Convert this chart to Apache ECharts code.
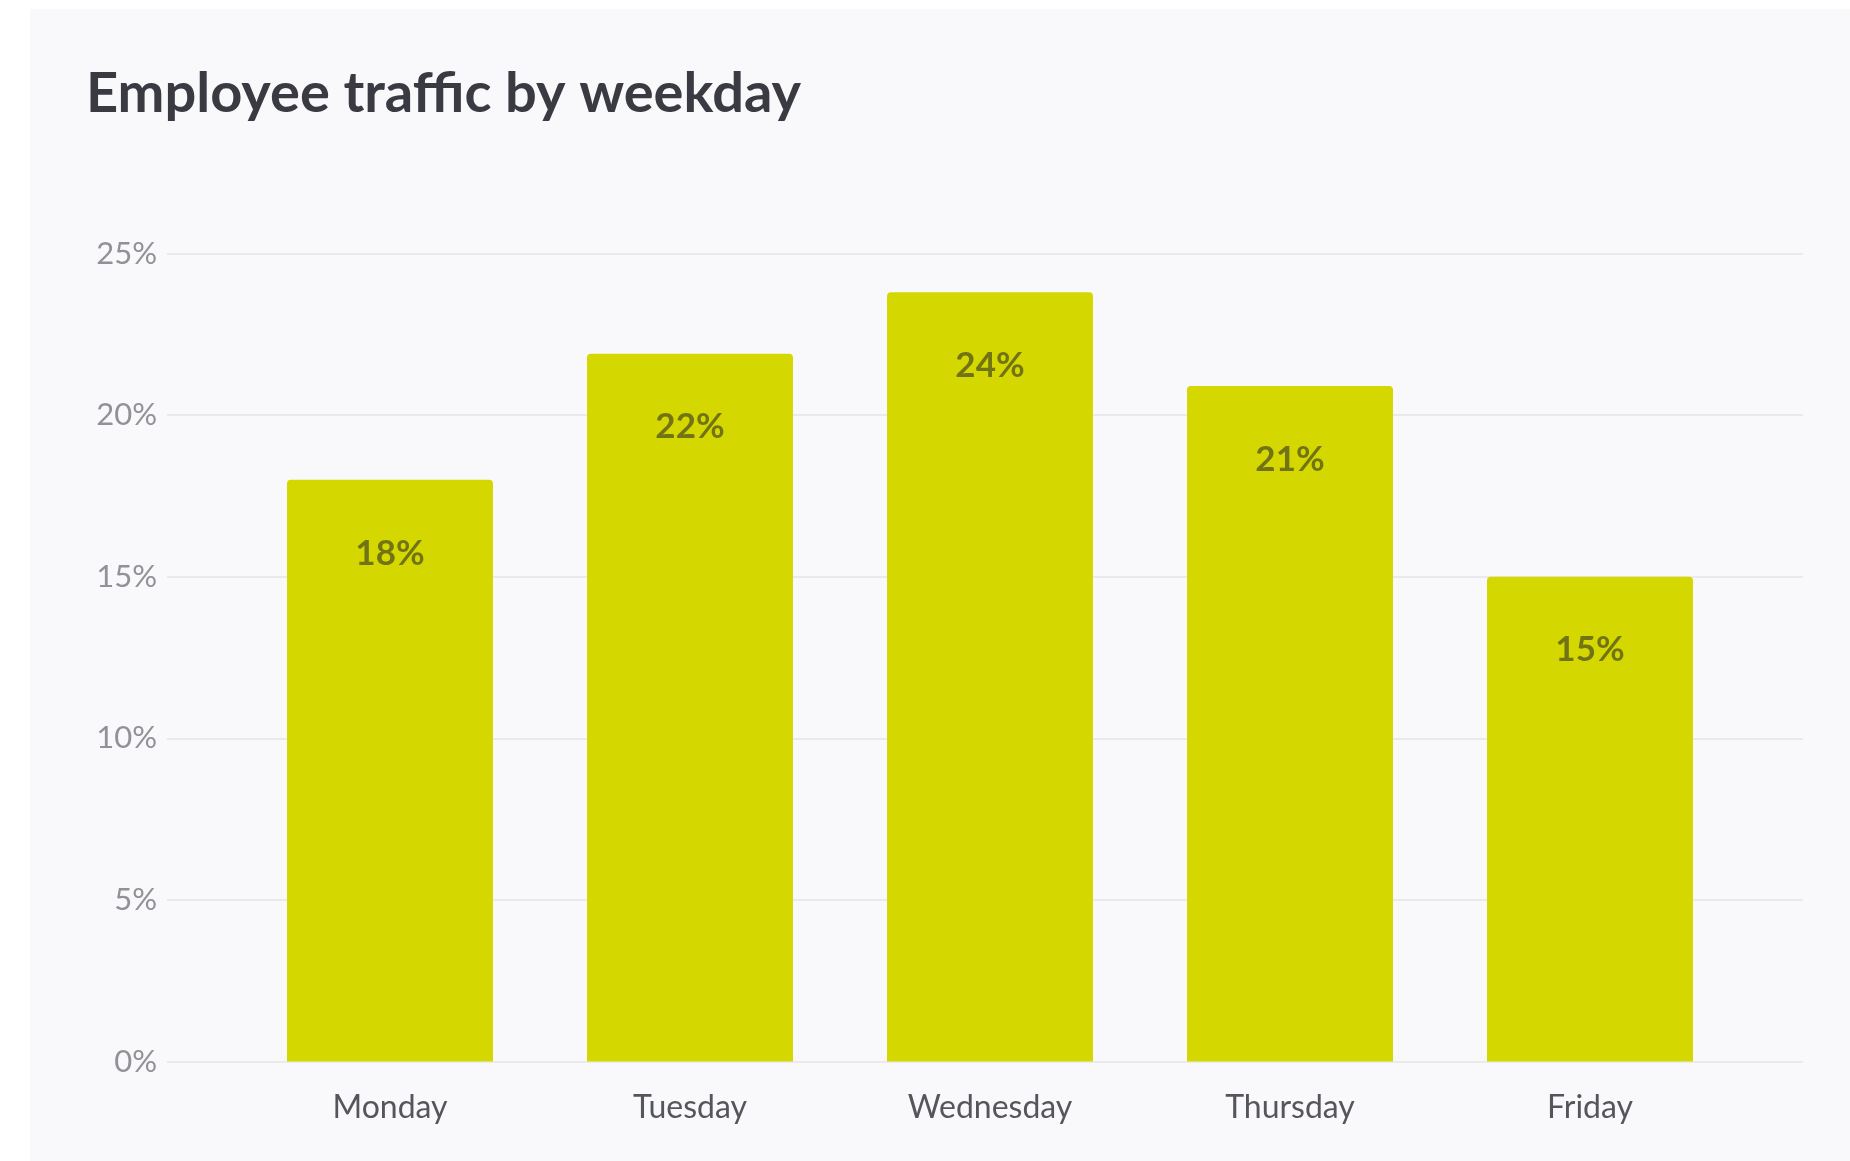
<!DOCTYPE html>
<html>
<head>
<meta charset="utf-8">
<script src="https://cdn.jsdelivr.net/npm/echarts@6/dist/echarts.min.js"></script>
<style>
  html, body { margin: 0; padding: 0; background: #ffffff; }
  #chart {
    position: absolute;
    left: 30px;
    top: 9px;
    width: 1820px;
    height: 1152px;
    background: #f9f9fb;
  }
</style>
</head>
<body>
<div id="chart"></div>
<script>
// Employee traffic by weekday
const days = ['Monday', 'Tuesday', 'Wednesday', 'Thursday', 'Friday'];
const traffic = [18.0, 21.9, 23.8, 20.9, 15.0];
const yTicks = [0, 5, 10, 15, 20, 25];

const chart = echarts.init(document.getElementById('chart'));

const FONT = 'Lato, "Noto Sans", sans-serif';

const option = {
  animation: false,
  title: {
    text: 'Employee traffic by weekday',
    left: 51,
    top: 52,
    textStyle: {
      fontFamily: FONT,
      fontSize: 56,
      fontWeight: 'bold',
      color: '#3a3b42'
    }
  },
  grid: [
    // grid with y labels and gridlines (full width)
    { left: 137, right: 47, top: 244.5, bottom: 99.5 },
    // grid holding the bars
    { left: 210, right: 110, top: 244.5, bottom: 99.5 }
  ],
  xAxis: [
    { gridIndex: 0, type: 'value', show: false, min: 0, max: 1 },
    {
      gridIndex: 1,
      type: 'category',
      data: days,
      axisLine: { show: false },
      axisTick: { show: false },
      axisLabel: {
        margin: 30,
        fontFamily: FONT,
        fontSize: 32,
        color: '#55565c'
      }
    }
  ],
  yAxis: [
    {
      gridIndex: 0,
      type: 'value',
      min: yTicks[0],
      max: yTicks[yTicks.length - 1],
      interval: 5,
      axisLine: { show: false },
      axisTick: { show: false },
      axisLabel: {
        margin: 10,
        formatter: '{value}%',
        fontFamily: FONT,
        fontSize: 31,
        color: '#919298',
        padding: [4, 0, 0, 0]
      },
      splitLine: { lineStyle: { color: '#e4e4e8', width: 1.5 } }
    },
    {
      gridIndex: 1,
      type: 'value',
      min: yTicks[0],
      max: yTicks[yTicks.length - 1],
      interval: 5,
      show: false,
      splitLine: { show: false }
    }
  ],
  series: [
    {
      name: 'Traffic',
      type: 'bar',
      xAxisIndex: 1,
      yAxisIndex: 1,
      data: traffic,
      barWidth: 206,
      itemStyle: {
        color: '#d4d700',
        borderRadius: [4, 4, 0, 0]
      },
      label: {
        show: true,
        position: 'insideTop',
        distance: 56,
        formatter: (p) => Math.round(p.value) + '%',
        fontFamily: FONT,
        fontSize: 35,
        fontWeight: 'bold',
        color: '#727314'
      }
    }
  ]
};

chart.setOption(option);
</script>
</body>
</html>
